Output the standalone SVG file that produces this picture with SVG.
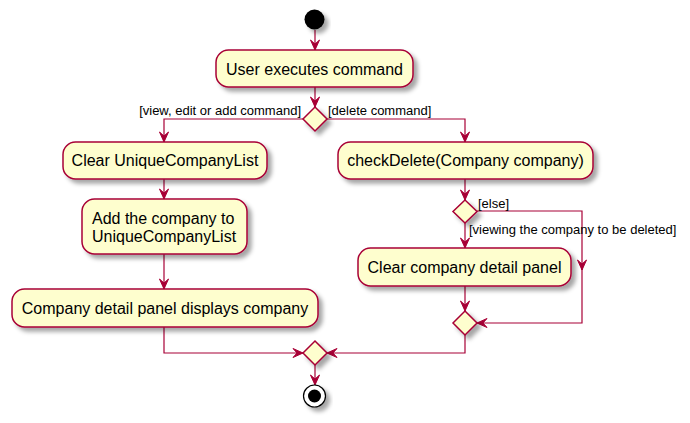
<svg xmlns="http://www.w3.org/2000/svg" width="690" height="423" viewBox="0 0 690 423">
<style>
.box{fill:#FEFECE;stroke:#A80036;stroke-width:1.5;filter:url(#sh)}
.dia{fill:#FEFECE;stroke:#A80036;stroke-width:1.5;filter:url(#sh)}
.t{font-family:"Liberation Sans",Arial,sans-serif;font-size:16px;fill:#000}
.lbl{font-family:"Liberation Sans",Arial,sans-serif;font-size:13px;fill:#000}
.c{fill:none;stroke:#A80036;stroke-width:1.2;marker-end:url(#ah)}
</style>
<defs>
<filter id="sh" x="-20%" y="-20%" width="150%" height="160%">
<feDropShadow dx="4" dy="4" stdDeviation="2" flood-color="#000" flood-opacity="0.35"/>
</filter>
<marker id="ah" viewBox="-11 -5 12 10" refX="0" refY="0" markerWidth="12" markerHeight="10" markerUnits="userSpaceOnUse" orient="auto">
<path d="M0,0 L-10,-4.5 L-6,0 L-10,4.5 Z" fill="#A80036" stroke="#A80036" stroke-width="1"/>
</marker>
</defs>
<g id="connectors">
<path class="c" d="M315,30 L315,50"/>
<path class="c" d="M315,87 L315,107"/>
<path class="c" d="M303,119 L164,119 L164,142"/>
<path class="c" d="M327,119 L465,119 L465,142"/>
<path class="c" d="M164,179 L164,199"/>
<path class="c" d="M164,254 L164,289"/>
<path class="c" d="M164,327 L164,353 L303,353"/>
<path class="c" d="M465,179 L465,200"/>
<path class="c" d="M465,223 L465,248"/>
<path class="c" d="M477,211 L582,211 L582,270"/>
<path class="c" d="M582,268 L582,323 L477,323"/>
<path class="c" d="M465,286 L465,311"/>
<path class="c" d="M465,334 L465,353 L327,353"/>
<path class="c" d="M315,365 L315,385"/>
<text class="lbl" x="301" y="115" text-anchor="end">[view, edit or add command]</text>
<text class="lbl" x="328" y="115">[delete command]</text>
<text class="lbl" x="478" y="208">[else]</text>
<text class="lbl" x="469" y="234">[viewing the company to be deleted]</text>
</g>
<g id="start"><circle cx="314.5" cy="19.5" r="10" fill="#000" filter="url(#sh)"/></g>
<g id="userExecutes">
<rect class="box" x="216" y="50" width="197" height="37" rx="12.5"/>
<text class="t" x="314.5" y="75" text-anchor="middle">User executes command</text>
</g>
<g id="decision1"><polygon class="dia" points="315,107 327,119 315,131 303,119"/></g>
<g id="clearList">
<rect class="box" x="63" y="142" width="204" height="37" rx="12.5"/>
<text class="t" x="165" y="166" text-anchor="middle">Clear UniqueCompanyList</text>
</g>
<g id="addCompany">
<rect class="box" x="82" y="199" width="165" height="55" rx="12.5"/>
<text class="t" x="92" y="224">Add the company to</text>
<text class="t" x="92" y="242">UniqueCompanyList</text>
</g>
<g id="detailDisplays">
<rect class="box" x="12" y="289" width="306" height="38" rx="12.5"/>
<text class="t" x="165" y="314" text-anchor="middle">Company detail panel displays company</text>
</g>
<g id="checkDelete">
<rect class="box" x="338" y="142" width="255" height="37" rx="12.5"/>
<text class="t" x="465.5" y="166" text-anchor="middle">checkDelete(Company company)</text>
</g>
<g id="decision2"><polygon class="dia" points="465,200 477,211.5 465,223 453,211.5"/></g>
<g id="clearPanel">
<rect class="box" x="358" y="248" width="213" height="38" rx="12.5"/>
<text class="t" x="464.5" y="273" text-anchor="middle">Clear company detail panel</text>
</g>
<g id="merge2"><polygon class="dia" points="465,311 477,323 465,335 453,323"/></g>
<g id="merge1"><polygon class="dia" points="315,341 327,353 315,365 303,353"/></g>
<g id="end">
<circle cx="314.5" cy="396" r="11" fill="#fff" stroke="#000" stroke-width="1.2" filter="url(#sh)"/>
<circle cx="314.5" cy="396" r="6.5" fill="#000"/>
</g>
</svg>
